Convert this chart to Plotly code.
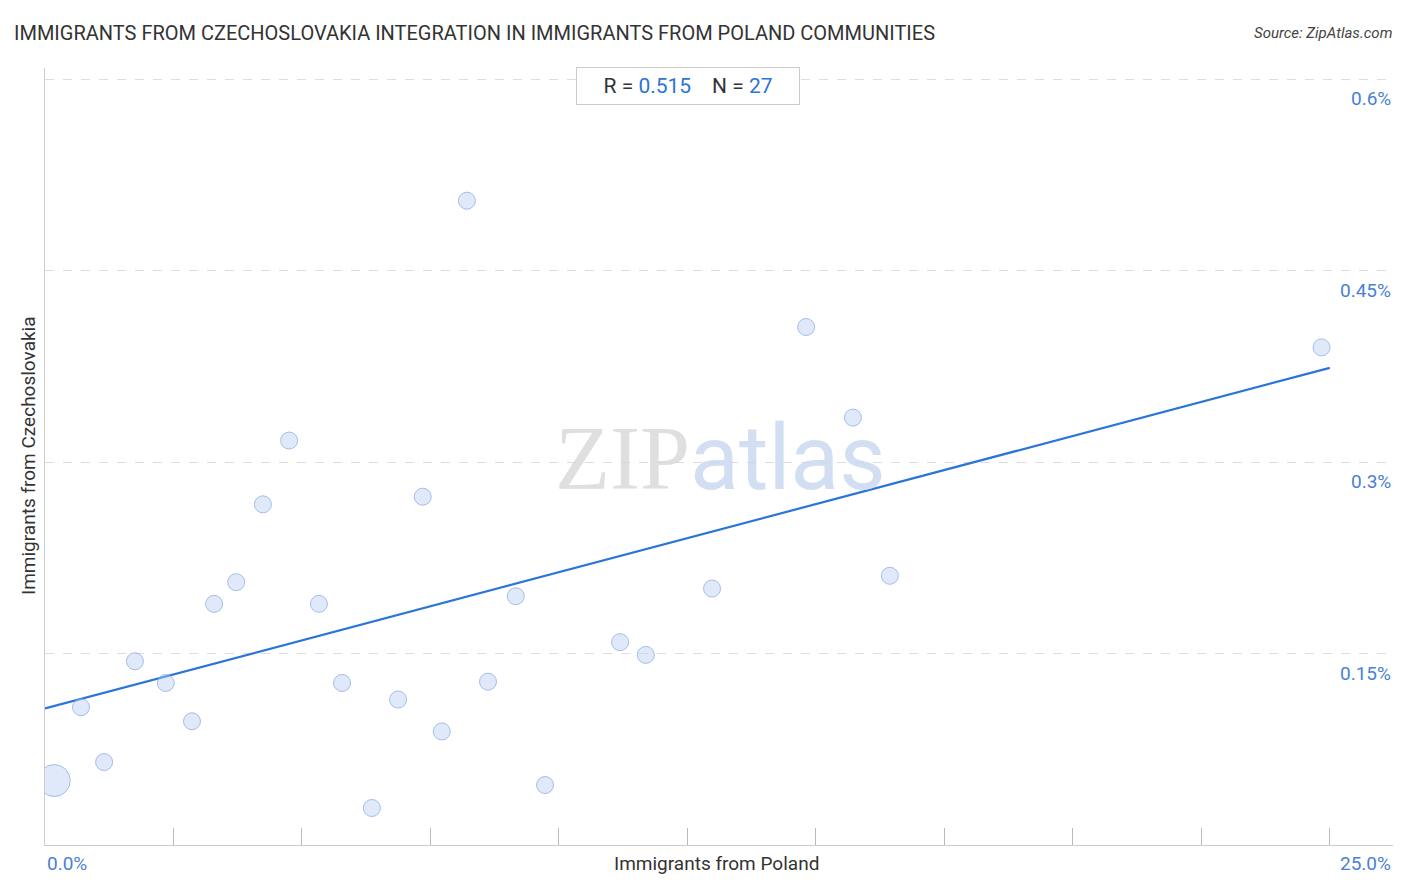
import plotly.graph_objects as go

x_vals = [0.18,0.70,1.15,1.75,2.35,2.86,3.29,3.72,4.24,4.75,5.33,5.78,6.36,6.87,7.35,7.72,8.21,8.62,9.16,9.73,11.19,11.69,12.98,14.81,15.72,16.44,24.84]
y_vals = [0.0505,0.108,0.065,0.144,0.127,0.097,0.189,0.206,0.267,0.317,0.189,0.127,0.029,0.114,0.273,0.089,0.505,0.128,0.195,0.047,0.159,0.149,0.201,0.406,0.335,0.211,0.390]
sizes = [32]+[17]*26
trend_x = [0.0, 25.0]
trend_y = [0.107, 0.374]
y_ticks = [0.15, 0.3, 0.45, 0.6]
y_tick_labels = ["0.15%", "0.3%", "0.45%", "0.6%"]
x_ticks = [i*2.5 for i in range(11)]

OFF = 8  # page margin offset
L, R, T, B = 45-OFF, 21, 68-OFF, 55
W, H = 1406, 892
pw = W-L-R; ph = H-T-B
def px(xp): return (xp-OFF-L)/pw
def py(yp): return (H-B-(yp-OFF))/ph

fig = go.Figure()
fig.add_trace(go.Scatter(x=trend_x, y=trend_y, mode="lines", line=dict(color="#2b74d8", width=2.2), hoverinfo="skip"))
fig.add_trace(go.Scatter(x=x_vals, y=y_vals, mode="markers",
    marker=dict(size=sizes, color="rgba(180,205,245,0.6)", line=dict(color="#7ea3de", width=1))))

blue = "#4a7fd4"
ann = []
for v, t in zip(y_ticks, y_tick_labels):
    ann.append(dict(x=1, xref="paper", y=v, yref="y", text=t, showarrow=False, xanchor="right", yanchor="top", yshift=-6,
                    font=dict(color=blue, size=19, family="Roboto")))
ann += [
    dict(x=0, xref="paper", y=0, yref="paper", text="0.0%", showarrow=False, xanchor="left", yanchor="top", yshift=-5, font=dict(color=blue, size=19, family="Roboto")),
    dict(x=1, xref="paper", y=0, yref="paper", text="25.0%", showarrow=False, xanchor="right", yanchor="top", yshift=-5, font=dict(color=blue, size=19, family="Roboto")),
    dict(x=px(716), y=0, xref="paper", yref="paper", text="Immigrants from Poland", showarrow=False, xanchor="center", yanchor="top", yshift=-5, font=dict(color="#333", size=19, family="Roboto")),
    dict(x=px(28), xref="paper", y=py(456), yref="paper", text="Immigrants from Czechoslovakia", textangle=-90, showarrow=False, xanchor="center", yanchor="middle", font=dict(color="#333", size=19, family="Roboto")),
    dict(x=px(12), y=py(33), xref="paper", yref="paper", text="IMMIGRANTS FROM CZECHOSLOVAKIA INTEGRATION IN IMMIGRANTS FROM POLAND COMMUNITIES",
         showarrow=False, xanchor="left", yanchor="middle", font=dict(size=20, color="#333", family="Roboto")),
    dict(x=px(1394), y=py(33), xref="paper", yref="paper", text="<i>Source: ZipAtlas.com</i>", showarrow=False,
         xanchor="right", yanchor="middle", font=dict(size=15, color="#444", family="Roboto")),
    dict(x=px(688), y=py(86), xref="paper", yref="paper",
         text="<span style='color:#333'>R = </span><span style='color:#2b74d8'>0.515</span>    <span style='color:#333'>N = </span><span style='color:#2b74d8'>27</span>",
         showarrow=False, xanchor="center", yanchor="middle", font=dict(size=21, family="Roboto"),
         bgcolor="white", bordercolor="#ccc", borderwidth=1, borderpad=6, width=210),
    dict(x=px(720), y=py(458), xref="paper", yref="paper",
         text="<span style='font-family:Liberation Serif;color:#d8d8d8'>ZIP</span><span style='color:#c8d8f0'>atlas</span>",
         showarrow=False, font=dict(size=90, family="Roboto"), opacity=0.8),
]

fig.update_layout(
    width=W, height=H, paper_bgcolor="white", plot_bgcolor="white", showlegend=False,
    margin=dict(l=L, r=R, t=T, b=B),
    xaxis=dict(range=[0, 26.23], showgrid=False, zeroline=False, tickvals=x_ticks, ticks="inside", ticklen=17,
               tickcolor="#bbb", showticklabels=False, showline=True, linecolor="#ccc"),
    yaxis=dict(range=[0, 0.609], tickvals=y_ticks, showticklabels=False, gridcolor="#ddd", griddash="dash",
               zeroline=False, showline=True, linecolor="#ccc"),
    annotations=ann,
)
fig.write_html("out.html")
